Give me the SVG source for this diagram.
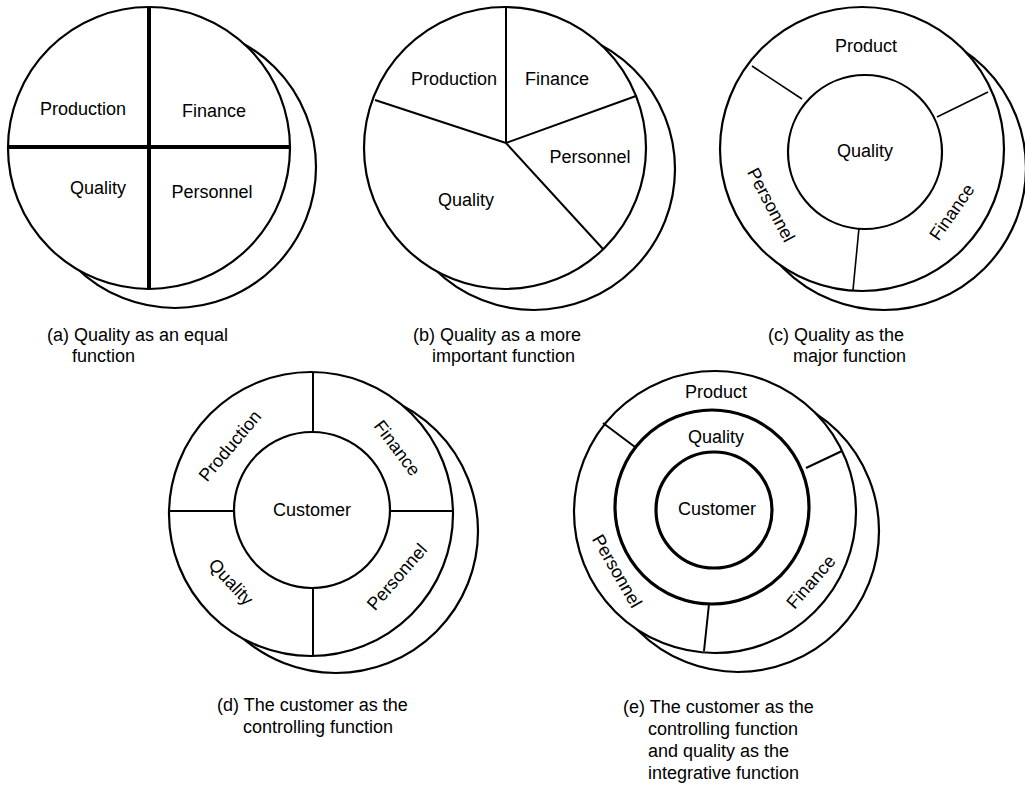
<svg xmlns="http://www.w3.org/2000/svg" width="1025" height="787" viewBox="0 0 1025 787">
  <style>
    .bg { fill: #ffffff; }
    .ring { fill: #ffffff; stroke: #000000; stroke-width: 2.2; }
    .shadow { fill: #ffffff; stroke: #000000; stroke-width: 2.2; }
    .thick { fill: #ffffff; stroke: #000000; stroke-width: 3.2; }
    .div { fill: none; stroke: #000000; stroke-width: 2; }
    .bold { fill: none; stroke: #000000; stroke-width: 4; }
    .thin { fill: none; stroke: #000000; stroke-width: 1.6; }
    text { font-family: "Liberation Sans", Arial, sans-serif; font-size: 18px; fill: #000000; }
    .mid { text-anchor: middle; }
  </style>
  <rect class="bg" x="0" y="0" width="1025" height="787"/>

  <!-- (a) four equal quadrants -->
  <g id="fig-a">
    <circle class="shadow" cx="175" cy="167" r="141"/>
    <circle class="ring" cx="149" cy="148" r="141"/>
    <line class="bold" x1="149" y1="7" x2="149" y2="289"/>
    <line class="bold" x1="8" y1="147" x2="290" y2="147"/>
    <text class="mid" x="83" y="115">Production</text>
    <text class="mid" x="214" y="117">Finance</text>
    <text class="mid" x="98" y="194">Quality</text>
    <text class="mid" x="212" y="198">Personnel</text>
    <text x="47" y="341">(a) Quality as an equal</text>
    <text x="72" y="362">function</text>
  </g>

  <!-- (b) quality takes the largest slice -->
  <g id="fig-b">
    <circle class="shadow" cx="534" cy="169" r="141"/>
    <circle class="ring" cx="505" cy="148" r="141"/>
    <line class="div" x1="506" y1="143" x2="506" y2="7"/>
    <line class="div" x1="506" y1="143" x2="375" y2="100"/>
    <line class="div" x1="506" y1="143" x2="636" y2="96"/>
    <line class="div" x1="506" y1="143" x2="603" y2="249"/>
    <text class="mid" x="454" y="85">Production</text>
    <text class="mid" x="557" y="85">Finance</text>
    <text class="mid" x="590" y="163">Personnel</text>
    <text class="mid" x="466" y="206">Quality</text>
    <text x="413" y="341">(b) Quality as a more</text>
    <text x="432" y="362">important function</text>
  </g>

  <!-- (c) quality at the centre -->
  <g id="fig-c">
    <circle class="shadow" cx="884" cy="168" r="142"/>
    <circle class="ring" cx="862" cy="149" r="142"/>
    <circle class="ring" cx="865" cy="152" r="77"/>
    <line class="thin" x1="752" y1="66" x2="802" y2="99"/>
    <line class="thin" x1="988" y1="92" x2="937" y2="117"/>
    <line class="thin" x1="859" y1="228" x2="853" y2="290"/>
    <text class="mid" x="866" y="52">Product</text>
    <text class="mid" x="865" y="157">Quality</text>
    <text class="mid" transform="translate(771 205) rotate(62)" x="0" y="6">Personnel</text>
    <text class="mid" transform="translate(952 212) rotate(-55)" x="0" y="6">Finance</text>
    <text x="768" y="341">(c) Quality as the</text>
    <text x="793" y="362">major function</text>
  </g>

  <!-- (d) customer at the centre -->
  <g id="fig-d">
    <circle class="shadow" cx="336" cy="531" r="142"/>
    <circle class="ring" cx="311" cy="514" r="142"/>
    <circle class="ring" cx="312" cy="510" r="78"/>
    <line class="div" x1="313" y1="372" x2="313" y2="432"/>
    <line class="div" x1="313" y1="588" x2="313" y2="655"/>
    <line class="div" x1="169" y1="511" x2="234" y2="511"/>
    <line class="div" x1="390" y1="511" x2="453" y2="511"/>
    <text class="mid" x="312" y="516">Customer</text>
    <text class="mid" transform="translate(230 446) rotate(-50)" x="0" y="6">Production</text>
    <text class="mid" transform="translate(397 448) rotate(53)" x="0" y="6">Finance</text>
    <text class="mid" transform="translate(231 582) rotate(47)" x="0" y="6">Quality</text>
    <text class="mid" transform="translate(397 577) rotate(-49)" x="0" y="6">Personnel</text>
    <text x="217" y="711">(d) The customer as the</text>
    <text x="243" y="733">controlling function</text>
  </g>

  <!-- (e) customer inside quality inside the functions -->
  <g id="fig-e">
    <circle class="shadow" cx="738" cy="531" r="141"/>
    <circle class="ring" cx="715" cy="512" r="141"/>
    <circle class="thick" cx="712" cy="507" r="97"/>
    <circle class="thick" cx="714" cy="510" r="58"/>
    <line class="div" x1="603" y1="423" x2="635" y2="447"/>
    <line class="div" x1="842" y1="451" x2="806" y2="468"/>
    <line class="div" x1="709" y1="604" x2="704" y2="651"/>
    <text class="mid" x="716" y="398">Product</text>
    <text class="mid" x="716" y="443">Quality</text>
    <text class="mid" x="717" y="515">Customer</text>
    <text class="mid" transform="translate(617 571) rotate(60)" x="0" y="6">Personnel</text>
    <text class="mid" transform="translate(811 582) rotate(-49)" x="0" y="6">Finance</text>
    <text x="623" y="713">(e) The customer as the</text>
    <text x="648" y="735">controlling function</text>
    <text x="648" y="757">and quality as the</text>
    <text x="648" y="779">integrative function</text>
  </g>
</svg>
